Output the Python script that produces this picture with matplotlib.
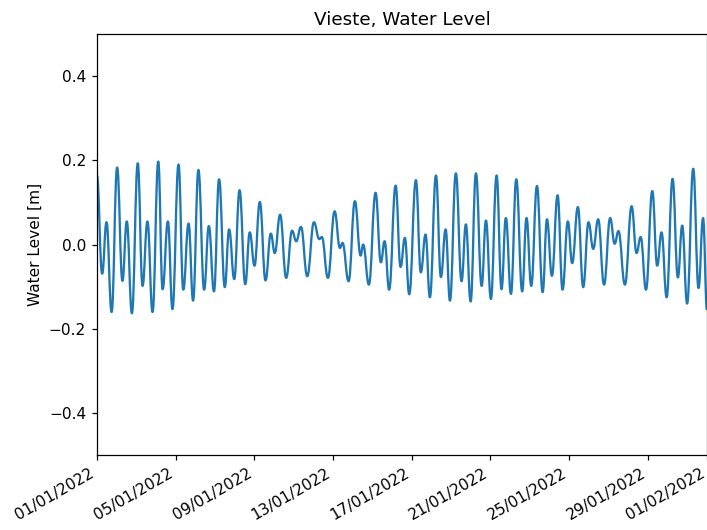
#!/usr/bin/env python3
"""Water level time series for Vieste, January 2022."""

from datetime import datetime, timedelta

import matplotlib

matplotlib.use("Agg")
import matplotlib.dates as mdates
import matplotlib.pyplot as plt
from matplotlib.patches import PathPatch
from matplotlib.path import Path

START = datetime(2022, 1, 1)
END = datetime(2022, 2, 1)

# turning points of the sea level record: days since START and level in metres
DAYS = [
    0.00, 0.27, 0.49, 0.75, 1.03, 1.30, 1.52, 1.78, 2.08, 2.32,
    2.57, 2.83, 3.12, 3.34, 3.61, 3.84, 4.15, 4.39, 4.66, 4.89,
    5.16, 5.45, 5.69, 5.95, 6.21, 6.50, 6.72, 6.98, 7.25, 7.54,
    7.77, 8.01, 8.28, 8.57, 8.84, 9.04, 9.31, 9.62, 9.92, 10.13,
    10.37, 10.69, 11.03, 11.30, 11.43, 11.74, 12.08, 12.35, 12.48, 12.79,
    13.11, 13.40, 13.53, 13.82, 14.16, 14.43, 14.62, 14.85, 15.18, 15.43,
    15.65, 15.87, 16.21, 16.46, 16.70, 16.92, 17.23, 17.48, 17.72, 17.94,
    18.24, 18.53, 18.75, 18.99, 19.26, 19.55, 19.77, 20.02, 20.31, 20.56,
    20.78, 21.04, 21.31, 21.61, 21.83, 22.07, 22.36, 22.65, 22.87, 23.12,
    23.41, 23.66, 23.93, 24.15, 24.44, 24.71, 24.98, 25.22, 25.47, 25.77,
    26.08, 26.31, 26.50, 26.83, 27.17, 27.42, 27.63, 27.90, 28.22, 28.47,
    28.69, 28.95, 29.25, 29.52, 29.74, 29.99, 30.30, 30.57, 30.80, 31.00,
]
LEVEL = [
    0.165, -0.069, 0.053, -0.160, 0.183, -0.086, 0.055, -0.163, 0.193, -0.098,
    0.055, -0.160, 0.197, -0.106, 0.055, -0.153, 0.190, -0.107, 0.050, -0.133,
    0.177, -0.107, 0.044, -0.111, 0.155, -0.101, 0.036, -0.082, 0.129, -0.094,
    0.029, -0.050, 0.101, -0.085, 0.026, -0.020, 0.071, -0.079, 0.033, 0.008,
    0.042, -0.075, 0.053, 0.013, 0.018, -0.079, 0.079, -0.008, 0.004, -0.087,
    0.103, -0.026, 0.000, -0.095, 0.123, -0.042, 0.008, -0.107, 0.140, -0.053,
    0.016, -0.118, 0.153, -0.066, 0.024, -0.125, 0.164, -0.077, 0.036, -0.133,
    0.169, -0.087, 0.048, -0.135, 0.169, -0.098, 0.057, -0.129, 0.164, -0.106,
    0.063, -0.117, 0.155, -0.111, 0.063, -0.098, 0.139, -0.113, 0.060, -0.074,
    0.117, -0.107, 0.055, -0.044, 0.089, -0.101, 0.053, -0.010, 0.060, -0.095,
    0.063, 0.002, 0.032, -0.095, 0.091, -0.020, 0.018, -0.107, 0.127, -0.050,
    0.029, -0.125, 0.156, -0.078, 0.045, -0.140, 0.180, -0.103, 0.063, -0.155,
]

YTICKS = [-0.4, -0.2, 0.0, 0.2, 0.4]

DPI = 110.45


def _tide_path(x, y, handle=0.43):
    """Cubic Bezier path through the turning points, flat at each one."""
    verts = [(x[0], y[0])]
    codes = [Path.MOVETO]
    for i in range(1, len(x)):
        dx = x[i] - x[i - 1]
        verts += [
            (x[i - 1] + handle * dx, y[i - 1]),
            (x[i] - handle * dx, y[i]),
            (x[i], y[i]),
        ]
        codes += [Path.CURVE4] * 3
    return Path(verts, codes)


def main() -> None:
    times = [START + timedelta(days=d) for d in DAYS]
    tnum = mdates.date2num(times)

    fig, ax = plt.subplots(figsize=(707 / DPI, 530 / DPI), dpi=DPI)
    ax.xaxis_date()
    ax.add_patch(
        PathPatch(_tide_path(tnum, LEVEL), fill=False, edgecolor="#1f77b4",
                  linewidth=1.5, capstyle="butt", joinstyle="round")
    )

    ax.set_title("Vieste, Water Level")
    ax.set_ylabel("Water Level [m]")
    ax.set_ylim(-0.5, 0.5)
    ax.set_yticks(YTICKS)
    ax.set_xlim(START, END)

    ax.xaxis.set_major_locator(
        mdates.DayLocator(bymonthday=[1, 5, 9, 13, 17, 21, 25, 29]))
    ax.xaxis.set_major_formatter(mdates.DateFormatter("%d/%m/%Y"))
    fig.autofmt_xdate()

    fig.subplots_adjust(left=0.137, right=1.0, bottom=0.141, top=0.936)
    fig.savefig("out.png", dpi=DPI)
    plt.close(fig)


if __name__ == "__main__":
    main()
